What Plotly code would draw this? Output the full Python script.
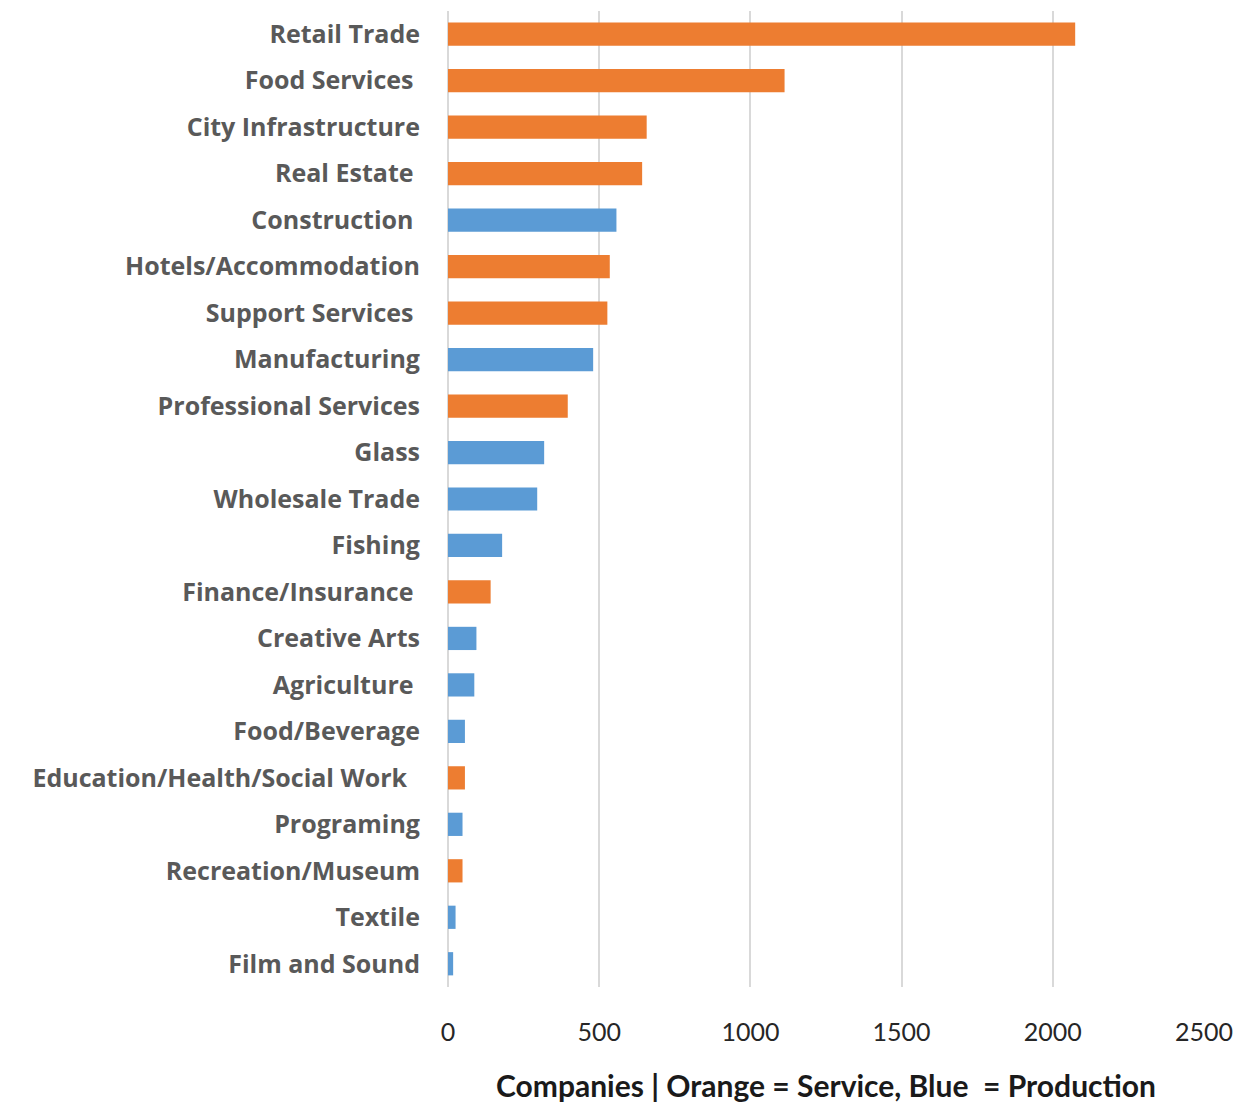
import plotly.graph_objects as go

# Number of companies per industry, largest first
industries = [
    "Retail Trade", "Food Services\u00a0", "City Infrastructure", "Real Estate\u00a0",
    "Construction\u00a0", "Hotels/Accommodation", "Support Services\u00a0", "Manufacturing",
    "Professional Services", "Glass", "Wholesale Trade", "Fishing",
    "Finance/Insurance\u00a0", "Creative Arts", "Agriculture\u00a0", "Food/Beverage",
    "Education/Health/Social Work\u00a0\u00a0", "Programing", "Recreation/Museum",
    "Textile", "Film and Sound",
]
companies = [
    2074, 1113, 657, 642,
    557, 535, 527, 480,
    396, 318, 295, 179,
    141, 94, 87, 56,
    56, 48, 48,
    25, 17,
]
sector = [
    "Service", "Service", "Service", "Service",
    "Production", "Service", "Service", "Production",
    "Service", "Production", "Production", "Production",
    "Service", "Production", "Production", "Production",
    "Service", "Production", "Service",
    "Production", "Production",
]
x_ticks = [0, 500, 1000, 1500, 2000, 2500]

sector_colors = {"Service": "#ED7D31", "Production": "#5B9BD5"}
bar_colors = [sector_colors[s] for s in sector]

fig = go.Figure(
    go.Bar(
        x=companies,
        y=industries,
        orientation="h",
        marker=dict(color=bar_colors, line=dict(width=0)),
        hovertemplate="%{y}: %{x}<extra></extra>",
    )
)

fig.update_layout(
    width=1246,
    height=1103,
    margin=dict(l=448, r=42, t=11, b=116),
    plot_bgcolor="white",
    paper_bgcolor="white",
    bargap=0.5,
    showlegend=False,
    font=dict(family="Lato, Open Sans, sans-serif"),
)

fig.update_xaxes(
    range=[0, 2500],
    tickvals=x_ticks,
    ticktext=[str(v) for v in x_ticks],
    showgrid=True,
    gridcolor="#D9D9D9",
    gridwidth=1.5,
    zeroline=True,
    zerolinecolor="#D9D9D9",
    zerolinewidth=1.5,
    showline=False,
    ticks="",
    automargin=False,
    ticklabelstandoff=28,
    tickfont=dict(size=25, color="#262626", family="Lato, sans-serif"),
    title=dict(
        text="<b>Companies | Orange = Service, Blue  = Production</b>",
        font=dict(size=30, color="#1a1a1a", family="Lato, sans-serif"),
        standoff=30,
    ),
)

fig.update_yaxes(
    categoryorder="array",
    categoryarray=industries,
    autorange="reversed",
    showgrid=False,
    showline=False,
    ticks="",
    automargin=False,
    ticklabelstandoff=27,
    tickfont=dict(size=25, color="#595959", family="Open Sans, sans-serif", weight="bold"),
)

fig.write_html("out.html")
